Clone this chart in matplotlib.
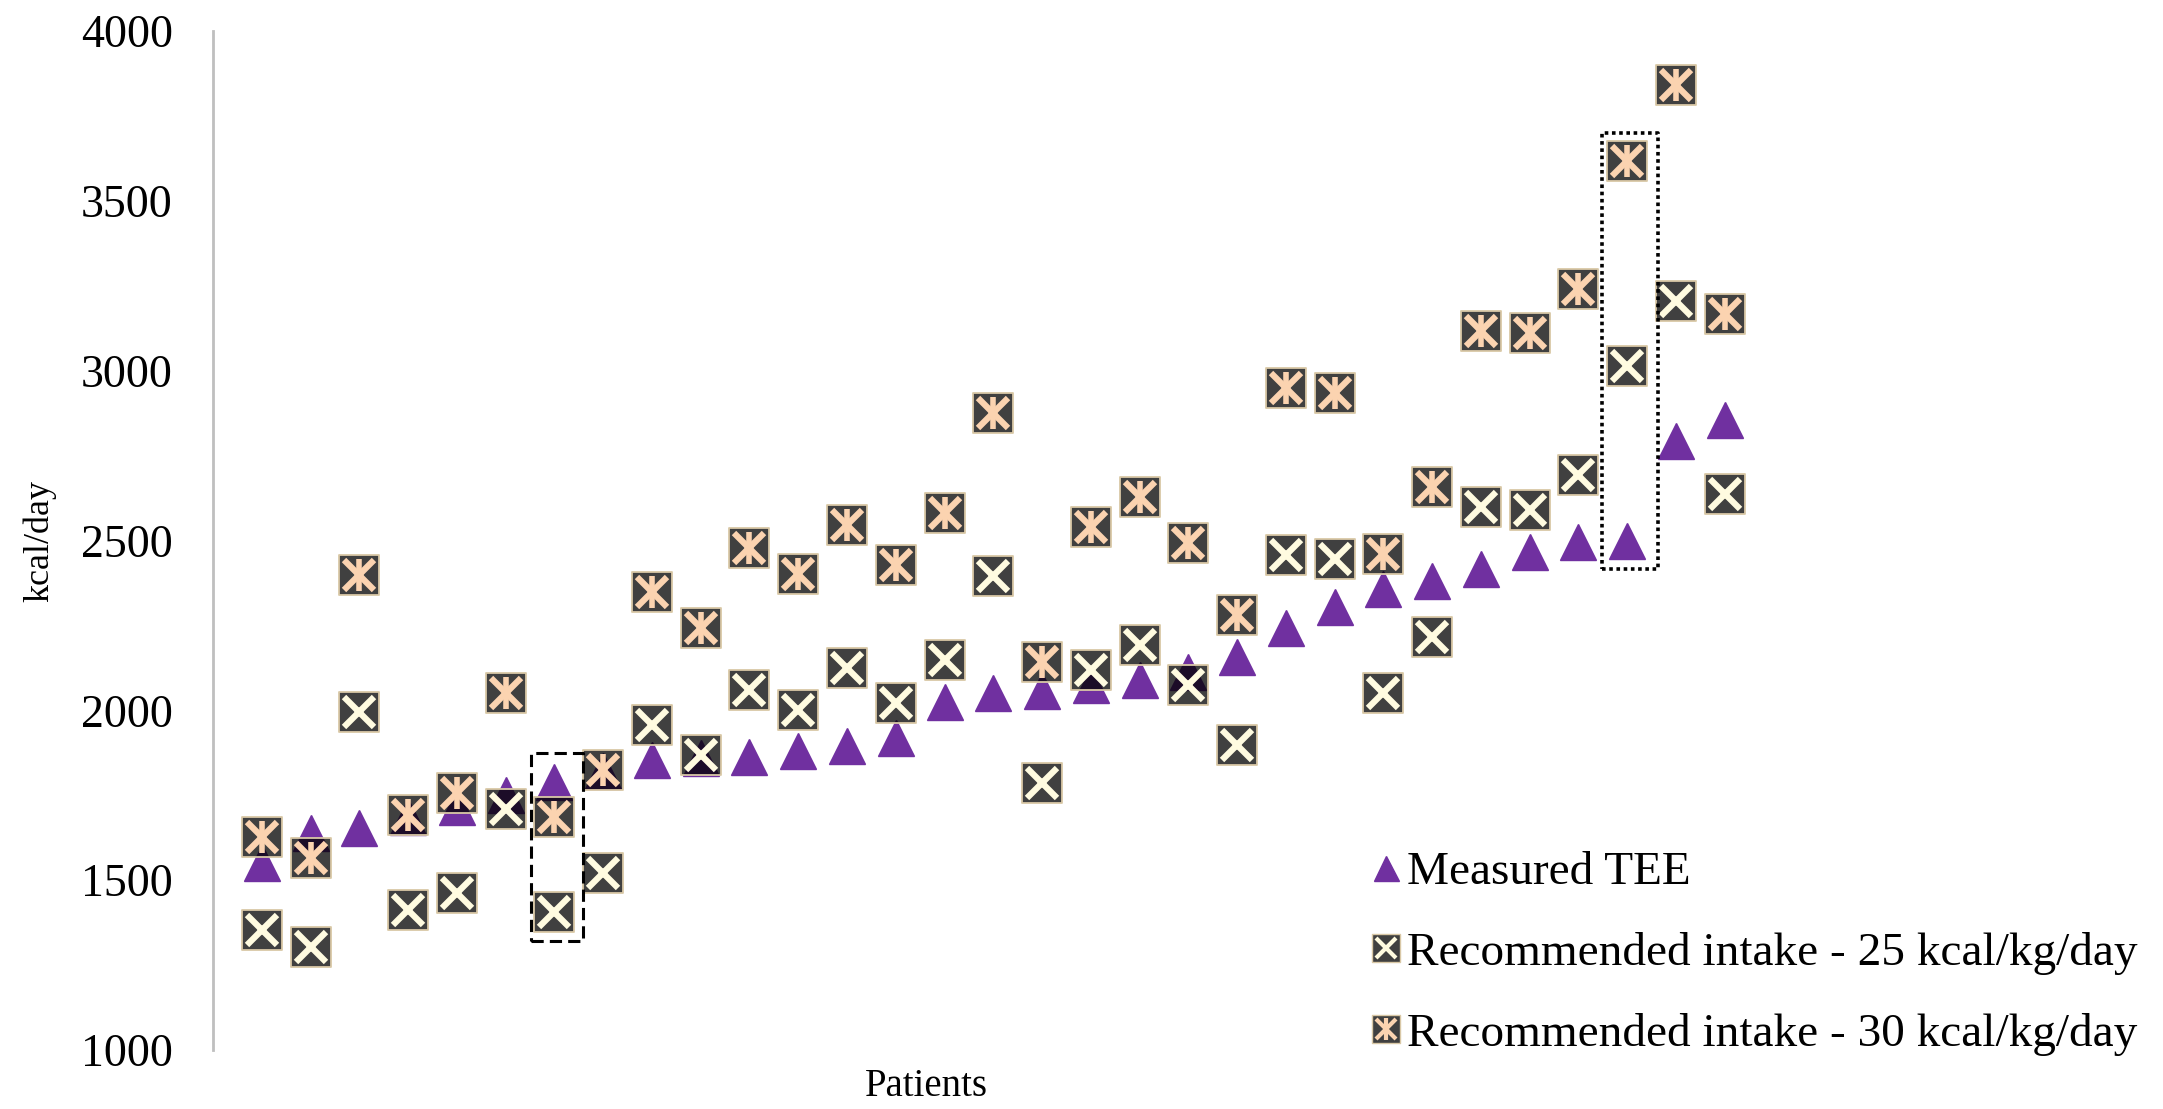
# Energy expenditure vs recommended intake, per patient
import numpy as np
import matplotlib.pyplot as plt
from matplotlib.lines import Line2D
from matplotlib.markers import MarkerStyle
from matplotlib.patches import Rectangle
from matplotlib.legend_handler import HandlerTuple

plt.rcParams['font.family'] = ['Liberation Serif', 'DejaVu Serif']

# --- data (kcal/day) ---
patients = np.arange(1, 32)
tee = [1550, 1640, 1655, 1685, 1715, 1750, 1789, 1820, 1854, 1860, 1862, 1881, 1895,
       1918, 2024, 2051, 2057, 2074, 2089, 2113, 2157, 2242, 2304, 2357, 2381, 2416,
       2466, 2495, 2500, 2793, 2855]
rec25 = [1353, 1303, 1995, 1412, 1462, 1710, 1406, 1521, 1957, 1868, 2060, 2001, 2124,
         2022, 2148, 2395, 1786, 2119, 2192, 2074, 1898, 2457, 2445, 2051, 2216, 2598,
         2590, 2693, 3015, 3205, 2637]
rec30 = [1627, 1565, 2398, 1692, 1757, 2051, 1686, 1824, 2348, 2242, 2478, 2401, 2545,
         2428, 2581, 2875, 2142, 2540, 2628, 2493, 2281, 2948, 2934, 2460, 2657, 3116,
         3112, 3240, 3616, 3841, 3167]
labels = ['Measured TEE',
          'Recommended intake - 25 kcal/kg/day',
          'Recommended intake - 30 kcal/kg/day']
yticks = [1000, 1500, 2000, 2500, 3000, 3500, 4000]
dashed_patient = 7
dotted_patient = 29

# --- style ---
purple = '#7030A0'
sq_face = (0, 0, 0, 0.75)
sq_edge = '#d9c8a6'
cream = '#fffbe0'
peach = '#fbd3b0'
sq = MarkerStyle('s', joinstyle='round')

fig = plt.figure(figsize=(21.63, 11.09), dpi=100)
ax = fig.add_axes([0.0985, 0.0532, 0.8815, 0.9188])

ax.plot(patients, tee, ls='none', marker='^', ms=26, color=purple, zorder=3, clip_on=False)

ax.plot(patients, rec25, ls='none', marker=sq, ms=29, mfc=sq_face, mec=sq_edge, mew=1.3, zorder=4, clip_on=False)
ax.plot(patients, rec25, ls='none', marker='x', ms=21, mew=4.5, color=cream, zorder=4.1, clip_on=False)

ax.plot(patients, rec30, ls='none', marker=sq, ms=29, mfc=sq_face, mec=sq_edge, mew=1.3, zorder=5, clip_on=False)
ax.plot(patients, rec30, ls='none', marker='x', ms=21, mew=4.5, color=peach, zorder=5.1, clip_on=False)
ax.plot(patients, rec30, ls='none', marker='|', ms=23, mew=4, color=peach, zorder=5.1, clip_on=False)

# highlight boxes around two patients
def highlight(p, ls, lw, width):
    i = p - 1
    vals = [tee[i], rec25[i], rec30[i]]
    lo, hi = min(vals) - 85, max(vals) + 85
    ax.add_patch(Rectangle((p - width / 2 + 0.05, lo), width, hi - lo, fill=False,
                           ec='black', ls=ls, lw=lw, joinstyle='round', zorder=6))

highlight(dashed_patient, (0, (4, 2)), 2.2, 1.07)
highlight(dotted_patient, (0, (1, 1)), 2.6, 1.15)

ax.set_xlim(0, 39.1)
ax.set_ylim(1000, 4000)
ax.set_yticks(yticks)
ax.set_xticks([])
for s in ['top', 'right', 'bottom']:
    ax.spines[s].set_visible(False)
ax.spines['left'].set_color('#bfbfbf')
ax.spines['left'].set_linewidth(2)
ax.tick_params(axis='y', length=0, pad=29, labelsize=33)

ax.set_ylabel('kcal/day', fontsize=26, va='center')
ax.yaxis.set_label_coords(-0.091, 0.5)
fig.text(926 / 2163, 1 - 1086 / 1109, 'Patients', fontsize=28, ha='center', va='center')

# legend
h_tee = Line2D([], [], ls='none', marker='^', ms=18, color=purple)
h_sq = Line2D([], [], ls='none', marker=sq, ms=20, mfc=sq_face, mec=sq_edge, mew=1)
h_x25 = Line2D([], [], ls='none', marker='x', ms=15, mew=3, color=cream)
h_x30 = Line2D([], [], ls='none', marker='x', ms=15, mew=3, color=peach)
h_v30 = Line2D([], [], ls='none', marker='|', ms=16, mew=3, color=peach)
ax.legend([h_tee, (h_sq, h_x25), (h_sq, h_x30, h_v30)], labels,
          handler_map={tuple: HandlerTuple(ndivide=1, pad=0)},
          loc='upper left', bbox_to_anchor=(1372 / 2163, 1 - 851 / 1109),
          bbox_transform=fig.transFigure, frameon=False, fontsize=34,
          handlelength=0.6, handletextpad=0.15, labelspacing=0.8,
          borderpad=0, borderaxespad=0)

fig.savefig('out.png', dpi=100)
